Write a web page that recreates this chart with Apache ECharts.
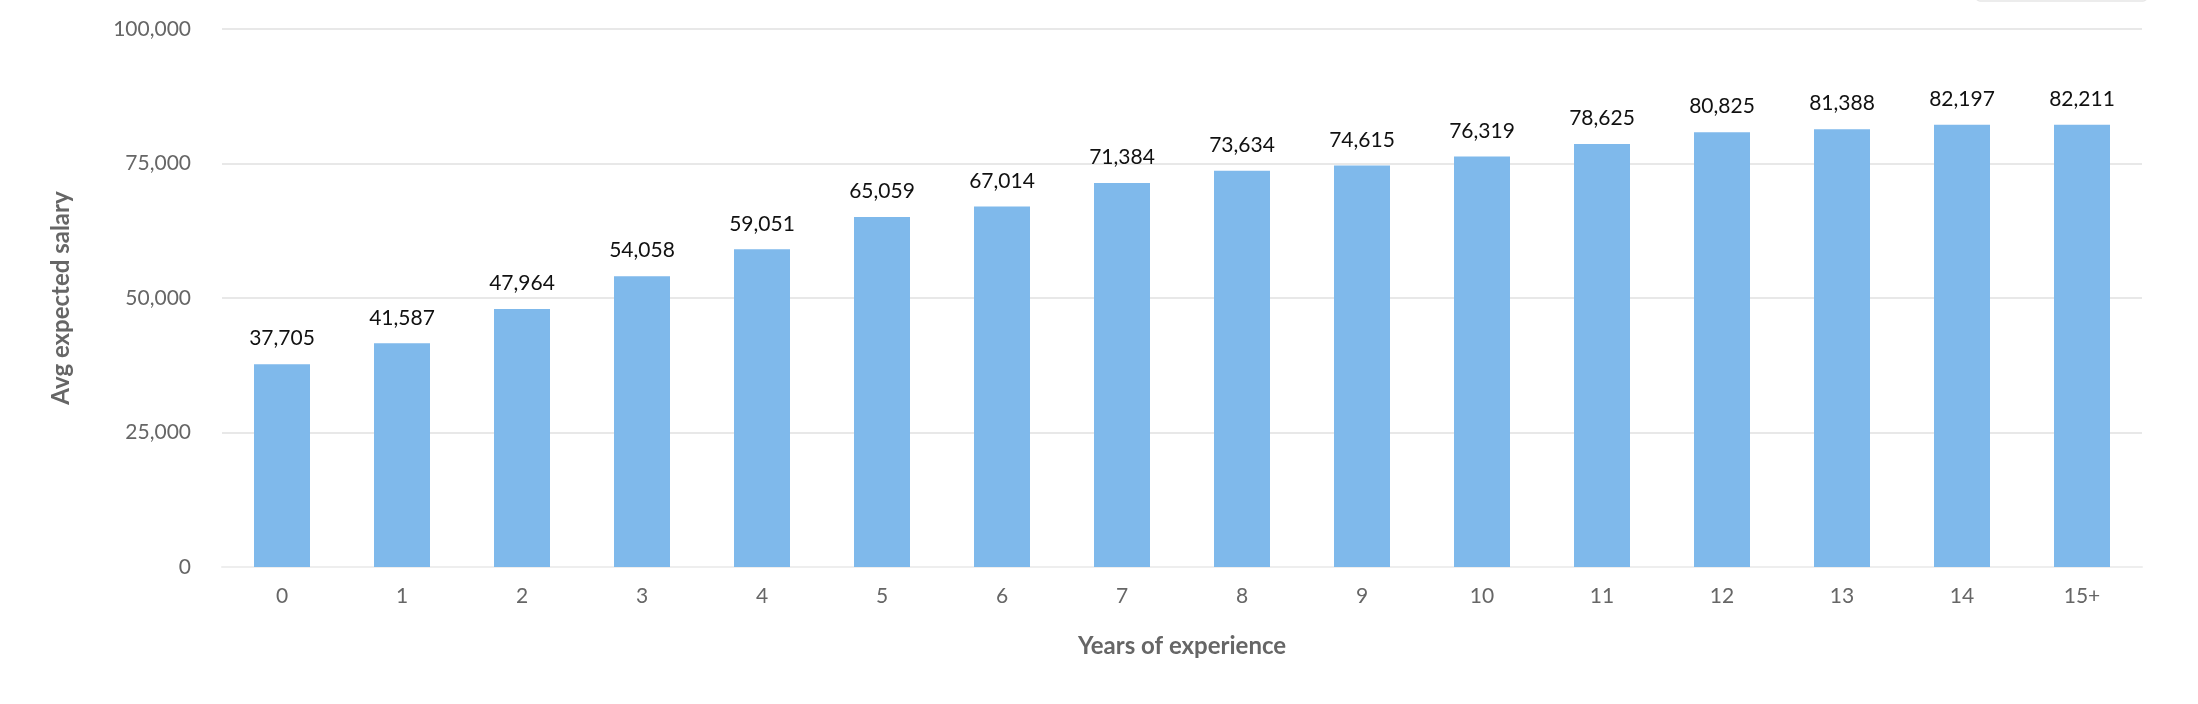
<!DOCTYPE html>
<html>
<head>
<meta charset="utf-8">
<script src="https://cdn.jsdelivr.net/npm/echarts@6/dist/echarts.min.js"></script>
<style>
  html, body { margin: 0; padding: 0; background: #fff; }
  #main { width: 2198px; height: 704px; }
</style>
</head>
<body>
<div id="main"></div>
<script>
// data
var years = ['0', '1', '2', '3', '4', '5', '6', '7', '8', '9', '10', '11', '12', '13', '14', '15+'];
var salary = [37705, 41587, 47964, 54058, 59051, 65059, 67014, 71384, 73634, 74615, 76319, 78625, 80825, 81388, 82197, 82211];

var chart = echarts.init(document.getElementById('main'));

var fnt = 'Lato, "Open Sans", sans-serif';

var option = {
    animation: false,
    grid: {
        left: 222,
        right: 56,
        top: 29,
        bottom: 137
    },
    graphic: [{
        type: 'rect',
        shape: { x: 1976, y: -30, width: 171, height: 31, r: 4 },
        style: { fill: '#fff', stroke: '#e6e6e6', lineWidth: 1.5 }
    }],
    xAxis: {
        type: 'category',
        data: years,
        name: 'Years of experience',
        nameLocation: 'middle',
        nameGap: 67,
        nameTextStyle: { fontFamily: fnt, fontSize: 24, fontWeight: 'bold', color: '#666' },
        axisLine: { lineStyle: { color: '#eeeeee', width: 2 } },
        axisTick: { show: false },
        axisLabel: { fontFamily: fnt, fontSize: 21, color: '#666', margin: 19 }
    },
    yAxis: {
        type: 'value',
        min: 0,
        max: 100000,
        interval: 25000,
        name: 'Avg expected salary',
        nameLocation: 'middle',
        nameGap: 149,
        nameTextStyle: { fontFamily: fnt, fontSize: 24, fontWeight: 'bold', color: '#666' },
        axisLine: { show: false },
        axisTick: { show: false },
        splitLine: { lineStyle: { color: '#e8e8e8', width: 2 } },
        axisLabel: {
            fontFamily: fnt, fontSize: 21, color: '#666', margin: 31,
            formatter: function (v) { return v.toLocaleString('en-US'); }
        }
    },
    series: [{
        type: 'bar',
        data: salary,
        barWidth: 56,
        itemStyle: { color: '#7fb9eb' },
        label: {
            show: true,
            position: 'top',
            distance: 15,
            fontFamily: fnt,
            fontSize: 21,
            color: '#111',
            formatter: function (p) { return p.value.toLocaleString('en-US'); }
        }
    }]
};

chart.setOption(option);
</script>
</body>
</html>
